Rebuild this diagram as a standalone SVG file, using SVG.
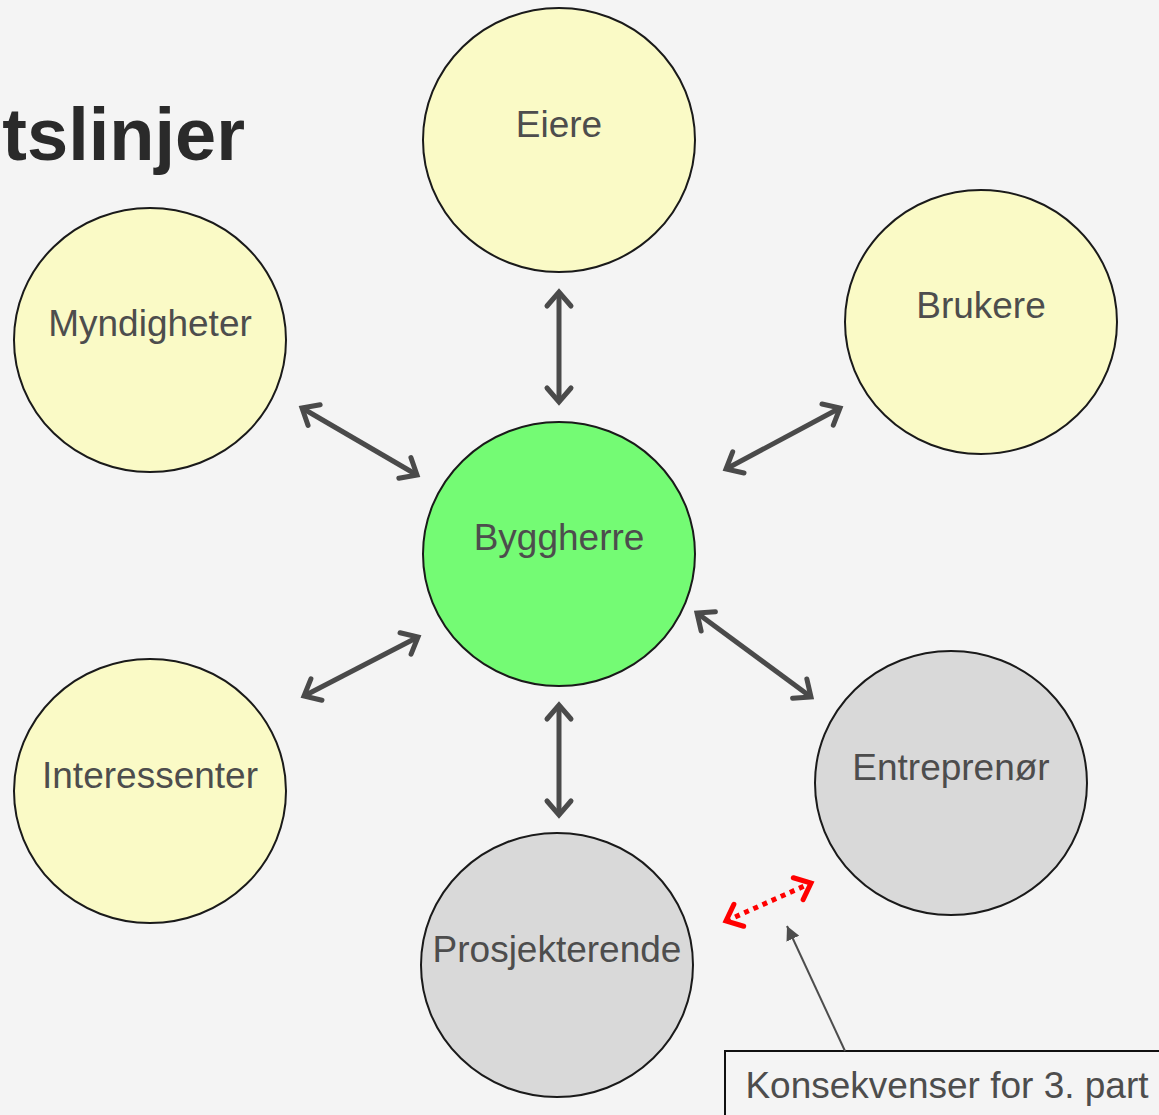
<svg xmlns="http://www.w3.org/2000/svg" width="1159" height="1115" viewBox="0 0 1159 1115">
<defs>
<style>
.node{stroke:#1a1a1a;stroke-width:2}
.y{fill:#fafac6}
.g{fill:#74fb74}
.gr{fill:#d9d9d9}
.lbl{font-family:"Liberation Sans",Arial,sans-serif;font-size:37px;fill:#4d4d4d;text-anchor:middle}
.arr{stroke:#4a4a4a;stroke-width:5;fill:none;marker-start:url(#ch);marker-end:url(#ch)}
.red{stroke:#ff0000;stroke-width:5;fill:none;stroke-dasharray:5 5;marker-start:url(#chr);marker-end:url(#chr)}
</style>
<marker id="ch" viewBox="-20 -16 24 32" refX="0" refY="0" markerWidth="24" markerHeight="32" markerUnits="userSpaceOnUse" orient="auto-start-reverse">
<path d="M-14,-12 L0,0 L-14,12" fill="none" stroke="#4a4a4a" stroke-width="5" stroke-linecap="round" stroke-linejoin="miter"/>
</marker>
<marker id="chr" viewBox="-20 -16 24 32" refX="0" refY="0" markerWidth="24" markerHeight="32" markerUnits="userSpaceOnUse" orient="auto-start-reverse">
<path d="M-14,-12 L0,0 L-14,12" fill="none" stroke="#ff0000" stroke-width="5" stroke-linecap="round" stroke-linejoin="miter"/>
</marker>
<marker id="tri" viewBox="0 0 10 10" refX="10" refY="5" markerWidth="14" markerHeight="14" markerUnits="userSpaceOnUse" orient="auto">
<path d="M0,0 L10,5 L0,10 Z" fill="#4d4d4d"/>
</marker>
</defs>
<rect width="1159" height="1115" fill="#f4f4f4"/>
<text x="245" y="160" text-anchor="end" font-family="'Liberation Sans',Arial,sans-serif" font-weight="bold" font-size="74" fill="#2a2a2a">tslinjer</text>

<g id="eiere"><ellipse class="node y" cx="559" cy="140" rx="136" ry="132"/><text class="lbl" x="559" y="137">Eiere</text></g>
<g id="myndigheter"><ellipse class="node y" cx="150" cy="340" rx="136" ry="132"/><text class="lbl" x="150" y="336">Myndigheter</text></g>
<g id="brukere"><ellipse class="node y" cx="981" cy="322" rx="136" ry="132"/><text class="lbl" x="981" y="318">Brukere</text></g>
<g id="byggherre"><ellipse class="node g" cx="559" cy="554" rx="136" ry="132"/><text class="lbl" x="559" y="550">Byggherre</text></g>
<g id="interessenter"><ellipse class="node y" cx="150" cy="791" rx="136" ry="132"/><text class="lbl" x="150" y="788">Interessenter</text></g>
<g id="entreprenor"><ellipse class="node gr" cx="951" cy="783" rx="136" ry="132"/><text class="lbl" x="951" y="780">Entreprenør</text></g>
<g id="prosjekterende"><ellipse class="node gr" cx="557" cy="965" rx="136" ry="132"/><text class="lbl" x="557" y="962">Prosjekterende</text></g>
<g id="konsekvenser"><rect x="725" y="1051" width="450" height="80" fill="#f4f4f4" stroke="#111" stroke-width="2"/><text class="lbl" x="947" y="1098">Konsekvenser for 3. part</text></g>

<g id="connectors">
<line class="arr" x1="559" y1="292" x2="559" y2="402"/>
<line class="arr" x1="302" y1="408" x2="417" y2="475"/>
<line class="arr" x1="840" y1="408" x2="726" y2="469"/>
<line class="arr" x1="418" y1="637" x2="304" y2="696"/>
<line class="arr" x1="697" y1="613" x2="811" y2="697"/>
<line class="arr" x1="559" y1="705" x2="559" y2="815"/>
<line class="red" x1="726" y1="921" x2="811" y2="883"/>
<line x1="845" y1="1051" x2="787" y2="926" stroke="#4d4d4d" stroke-width="2" marker-end="url(#tri)"/>
</g>
</svg>
